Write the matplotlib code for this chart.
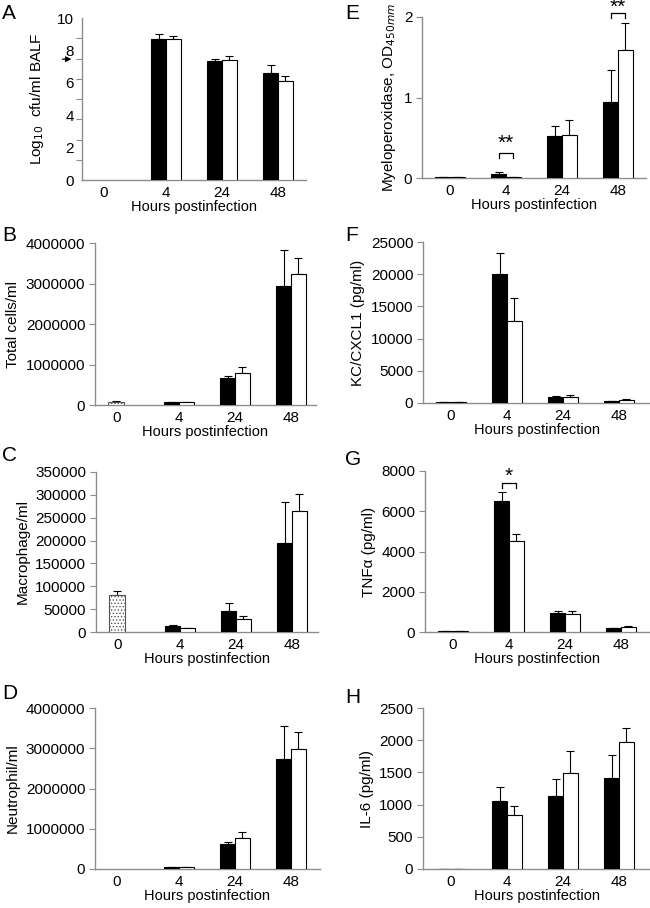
import matplotlib
matplotlib.use("Agg")
import matplotlib.pyplot as plt
import numpy as np

plt.rcParams['font.family'] = ['Liberation Sans', 'DejaVu Sans']
plt.rcParams['hatch.linewidth'] = 0.6

# ---------------- data ----------------
hours = ["0", "4", "24", "48"]

# Panel A: log10 cfu/ml BALF (no 0 h bars)
a_black = [np.nan, 8.72, 7.34, 6.60]
a_black_err = [0, 0.29, 0.12, 0.51]
a_white = [np.nan, 8.70, 7.38, 6.14]
a_white_err = [0, 0.21, 0.25, 0.25]
a_inoculum = 7.46

# Panel B: total cells/ml
b_ctrl = 80000
b_ctrl_err = 25000
b_black = [np.nan, 74000, 660000, 2944000]
b_black_err = [0, 8000, 66000, 891000]
b_white = [np.nan, 66000, 784000, 3240000]
b_white_err = [0, 6000, 164000, 390000]

# Panel C: macrophage/ml
c_ctrl = 82000
c_ctrl_err = 8500
c_black = [np.nan, 12300, 45000, 194000]
c_black_err = [0, 2200, 18200, 91000]
c_white = [np.nan, 8000, 28300, 264000]
c_white_err = [0, 1400, 5800, 38000]

# Panel D: neutrophil/ml
d_black = [np.nan, 50000, 620000, 2740000]
d_black_err = [0, 6000, 60000, 810000]
d_white = [np.nan, 41000, 760000, 2980000]
d_white_err = [0, 6000, 170000, 420000]

# Panel E: myeloperoxidase OD
e_black = [0.01, 0.05, 0.52, 0.94]
e_black_err = [0, 0.02, 0.13, 0.40]
e_white = [0.01, 0.01, 0.54, 1.59]
e_white_err = [0, 0, 0.18, 0.33]

# Panel F: KC/CXCL1 pg/ml
f_black = [100, 20000, 930, 310]
f_black_err = [0, 3300, 105, 0]
f_white = [100, 12680, 880, 470]
f_white_err = [0, 3570, 360, 150]

# Panel G: TNFa pg/ml
g_black = [30, 6507, 944, 199]
g_black_err = [0, 447, 116, 0]
g_white = [30, 4503, 911, 248]
g_white_err = [0, 365, 149, 32]

# Panel H: IL-6 pg/ml
h_black = [5, 1062, 1139, 1407]
h_black_err = [0, 216, 258, 361]
h_white = [5, 835, 1495, 1974]
h_white_err = [0, 150, 335, 217]

# ---------------- layout ----------------
W, H = 650, 908
fig = plt.figure(figsize=(W / 100, H / 100), dpi=100)

CAT_PX = 56.0
BW = 0.26
AX_GREY = '#8c8c8c'


def make_ax(l, t, r, b):
    ax = fig.add_axes([l / W, 1 - b / H, (r - l) / W, (b - t) / H])
    ax.set_xlim(0, (r - l) / CAT_PX)
    for s in ('top', 'right'):
        ax.spines[s].set_visible(False)
    for s in ('left', 'bottom'):
        ax.spines[s].set_color(AX_GREY)
        ax.spines[s].set_linewidth(1.0)
    ax.tick_params(axis='y', colors=AX_GREY, labelcolor='black', length=4,
                   width=0.8, labelsize=11, pad=3)
    ax.tick_params(axis='x', length=0, labelsize=11, pad=4)
    return ax


def bars(ax, centers, black, black_err, white, white_err):
    xb = np.array(centers) - BW / 2
    xw = np.array(centers) + BW / 2
    ax.bar(xb, black, width=BW, color='black', edgecolor='black', linewidth=0.8, zorder=3)
    ax.bar(xw, white, width=BW, color='white', edgecolor='black', linewidth=0.8, zorder=3)
    ax.errorbar(xb, black, yerr=[np.zeros(len(black)), black_err], fmt='none',
                ecolor='black', elinewidth=0.8, capsize=3, capthick=0.8, zorder=2)
    ax.errorbar(xw, white, yerr=[np.zeros(len(white)), white_err], fmt='none',
                ecolor='black', elinewidth=0.8, capsize=3, capthick=0.8, zorder=2)


def ctrl_bar(ax, x, val, err):
    ax.bar([x], [val], width=BW * 1.1, color='white', edgecolor='#555555',
           linewidth=0.8, hatch='.....', zorder=3)
    ax.errorbar([x], [val], yerr=[[0], [err]], fmt='none', ecolor='black',
                elinewidth=0.8, capsize=3, capthick=0.8, zorder=2)


def finish(ax, centers, letter, lx, ly, ylabel):
    ax.set_xticks(centers)
    ax.set_xticklabels(hours)
    ax.set_xlabel("Hours postinfection", fontsize=10.5, labelpad=0)
    ax.set_ylabel(ylabel, fontsize=11, labelpad=4)
    fig.text(lx / W, 1 - ly / H, letter, fontsize=15, ha='left', va='top')


def bracket(ax, c, y_low, y_high, y_text, stars):
    xs = [c - BW / 2, c - BW / 2, c + BW / 2, c + BW / 2]
    ax.plot(xs, [y_low, y_high, y_high, y_low], color='black', lw=0.9,
            clip_on=False, zorder=4)
    ax.text(c, y_text, stars, ha='center', va='center', fontsize=15, clip_on=False)


left_c = [0.38, 1.5, 2.5, 3.5]
right_c = [0.5, 1.5, 2.5, 3.5]

# ---- A ----
ax = make_ax(82, 18, 306, 180)
bars(ax, left_c, a_black, a_black_err, a_white, a_white_err)
ax.set_ylim(0, 10)
ax.set_yticks([0, 2, 4, 6, 8, 10])
ax.set_yticks(np.arange(0, 10.01, 1.25), minor=True)
ax.tick_params(axis='y', which='major', length=0, pad=6)
ax.tick_params(axis='y', which='minor', colors=AX_GREY, length=4, width=0.8)
ax.annotate('', xy=(-0.035, a_inoculum), xycoords=('axes fraction', 'data'),
            xytext=(-0.1, a_inoculum), textcoords=('axes fraction', 'data'),
            arrowprops=dict(arrowstyle='-|>', lw=0.9, color='black', mutation_scale=8))
finish(ax, left_c, 'A', 2, 4, r"Log$_{10}$  cfu/ml BALF")
ax.yaxis.set_label_coords(-0.16, 0.5)

# ---- B ----
ax = make_ax(95, 243, 316, 405)
ctrl_bar(ax, left_c[0], b_ctrl, b_ctrl_err)
bars(ax, left_c, b_black, b_black_err, b_white, b_white_err)
ax.set_ylim(0, 4000000)
ax.set_yticks([0, 1000000, 2000000, 3000000, 4000000])
ax.set_yticklabels(['0', '1000000', '2000000', '3000000', '4000000'])
finish(ax, left_c, 'B', 2, 226, "Total cells/ml")

# ---- C ----
ax = make_ax(96, 472, 318, 632)
ctrl_bar(ax, left_c[0], c_ctrl, c_ctrl_err)
bars(ax, left_c, c_black, c_black_err, c_white, c_white_err)
ax.set_ylim(0, 350000)
ax.set_yticks(np.arange(0, 350001, 50000))
ax.set_yticklabels([str(int(v)) for v in np.arange(0, 350001, 50000)])
finish(ax, left_c, 'C', 2, 446, "Macrophage/ml")

# ---- D ----
ax = make_ax(95, 708, 320, 869)
bars(ax, left_c, d_black, d_black_err, d_white, d_white_err)
ax.set_ylim(0, 4000000)
ax.set_yticks([0, 1000000, 2000000, 3000000, 4000000])
ax.set_yticklabels(['0', '1000000', '2000000', '3000000', '4000000'])
finish(ax, left_c, 'D', 2, 684, "Neutrophil/ml")

# ---- E ----
ax = make_ax(422, 17, 646, 178)
bars(ax, right_c, e_black, e_black_err, e_white, e_white_err)
ax.set_ylim(0, 2)
ax.set_yticks([0, 1, 2])
bracket(ax, right_c[1], 0.25, 0.31, 0.43, '**')
bracket(ax, right_c[3], 1.99, 2.05, 2.125, '**')
finish(ax, right_c, 'E', 345, 4, r"Myeloperoxidase, OD$_{450mm}$")

# ---- F ----
ax = make_ax(423, 242, 650, 403)
bars(ax, right_c, f_black, f_black_err, f_white, f_white_err)
ax.set_ylim(0, 25000)
ax.set_yticks(np.arange(0, 25001, 5000))
finish(ax, right_c, 'F', 345, 226, "KC/CXCL1 (pg/ml)")

# ---- G ----
ax = make_ax(425, 471, 650, 632)
bars(ax, right_c, g_black, g_black_err, g_white, g_white_err)
ax.set_ylim(0, 8000)
ax.set_yticks(np.arange(0, 8001, 2000))
bracket(ax, right_c[1], 7170, 7417, 7750, '*')
finish(ax, right_c, 'G', 345, 450, "TNFα (pg/ml)")

# ---- H ----
ax = make_ax(423, 708, 650, 869)
bars(ax, right_c, h_black, h_black_err, h_white, h_white_err)
ax.set_ylim(0, 2500)
ax.set_yticks(np.arange(0, 2501, 500))
finish(ax, right_c, 'H', 345, 688, "IL-6 (pg/ml)")

fig.savefig("out.png", dpi=100)
